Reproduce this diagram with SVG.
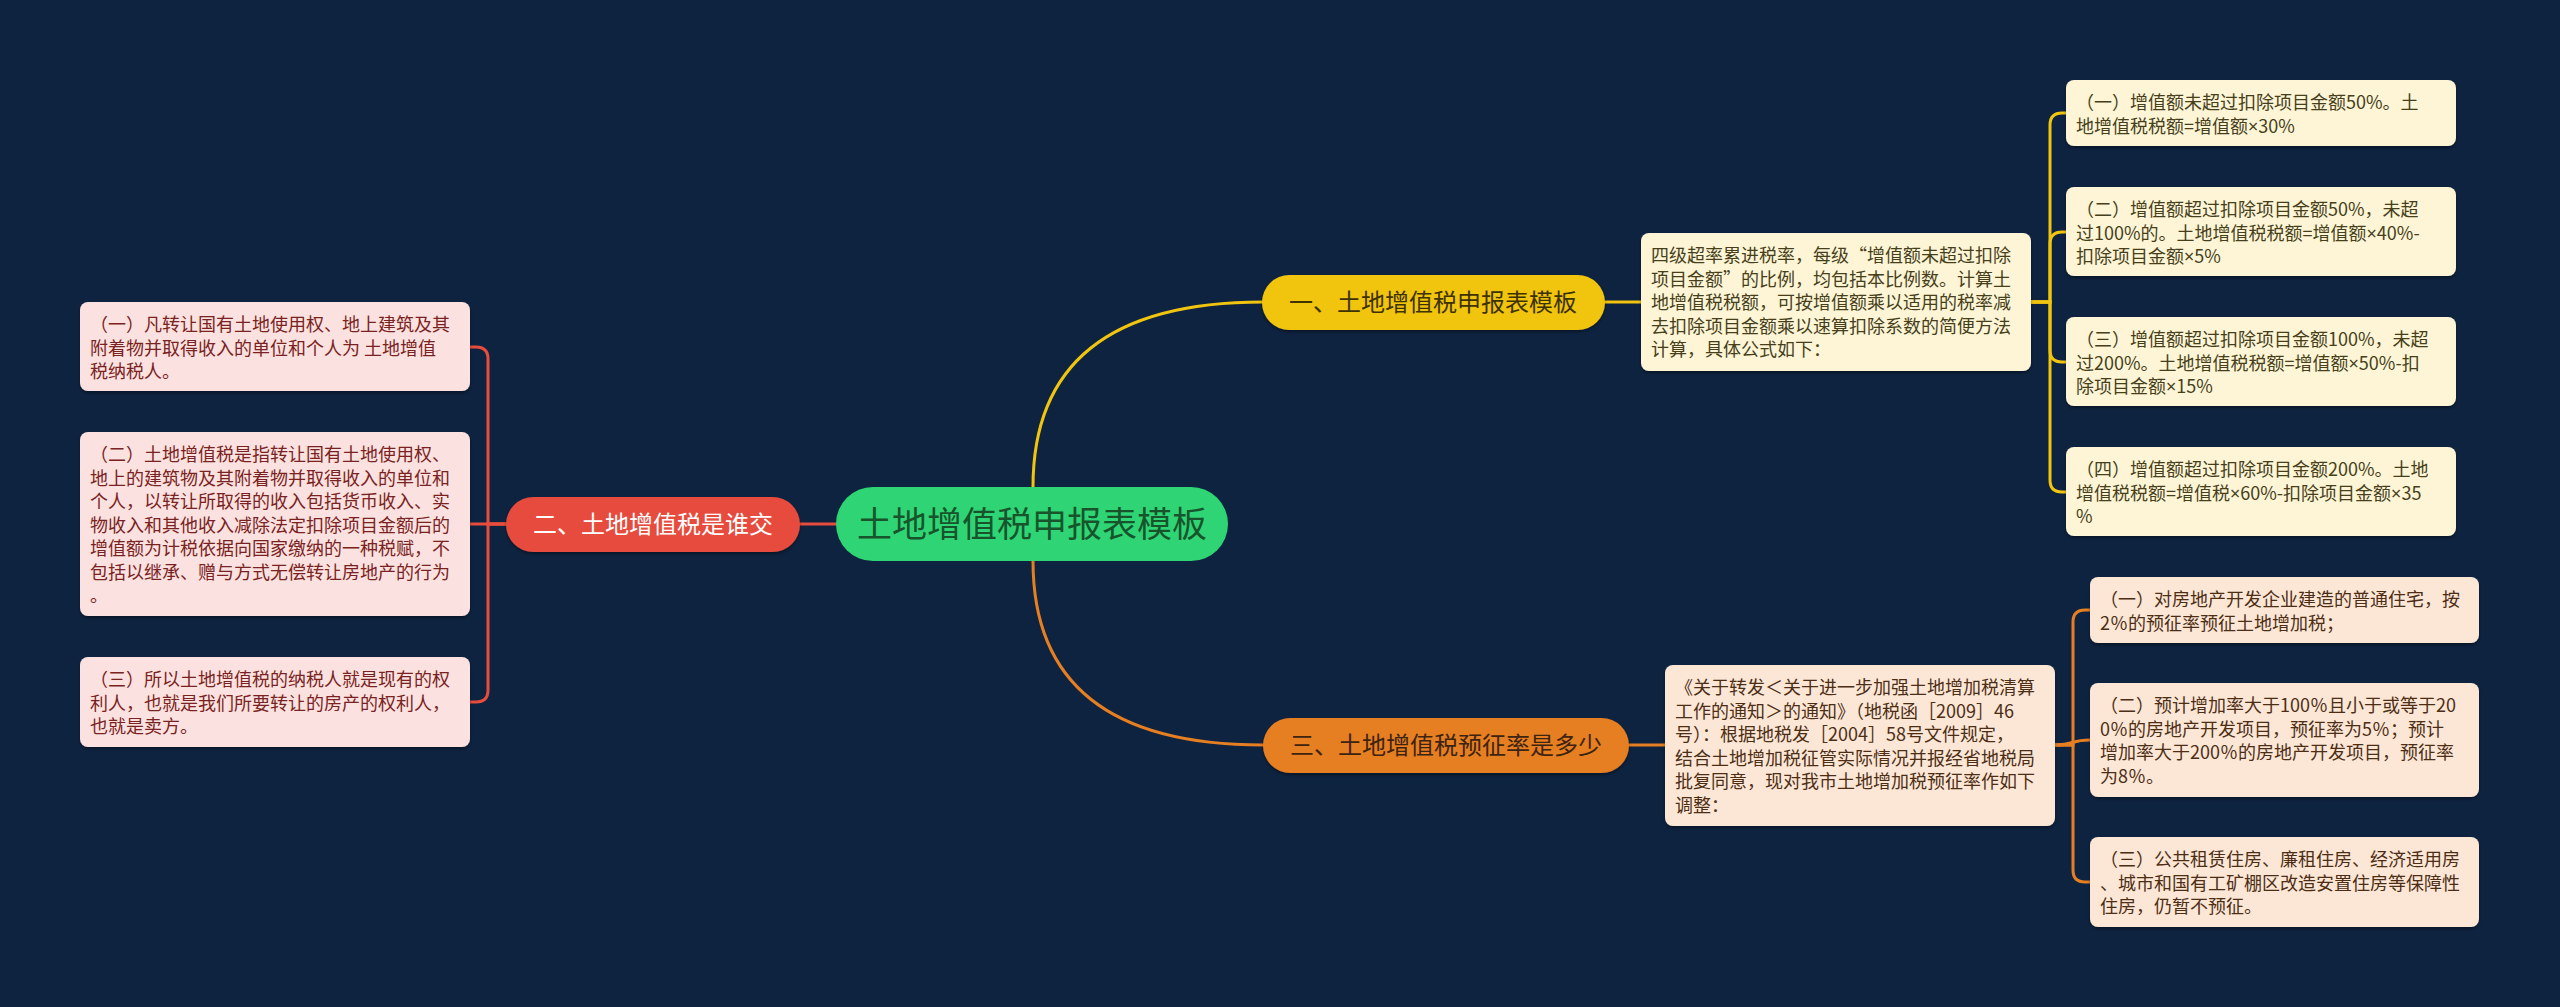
<svg xmlns="http://www.w3.org/2000/svg" width="2560" height="1007" viewBox="0 0 2560 1007">
<defs>
<filter id="sh" x="-10%" y="-20%" width="120%" height="150%"><feDropShadow dx="0" dy="2" stdDeviation="1.5" flood-color="#000" flood-opacity="0.4"/></filter>
<style>
text{font-family:"Noto Sans CJK SC","Noto Sans",sans-serif;}
.main{font-size:35px;fill:#17542b;text-anchor:middle;}
.br{font-size:24px;text-anchor:middle;}
.t{font-size:18px;}
.x{font-family:"Noto Sans","DejaVu Sans",sans-serif;}
.pk{fill:#fbe2e0;}
.pkt{fill:#7a2222;}
.yl{fill:#fdf5d6;}
.ylt{fill:#463f1a;}
.og{fill:#fce7d7;}
.ogt{fill:#4d2e14;}
.cn{fill:none;stroke-width:3;stroke-linecap:round;}
</style>
</defs>
<rect width="2560" height="1007" fill="#0e2340"/>
<g id="connectors">
<g stroke="#e74c3c" class="cn">
<path d="M836,524 H800"/>
<path d="M506,524 H488 V359 Q488,347 476,347 H470"/>
<path d="M506,524 H470"/>
<path d="M506,524 H488 V690 Q488,702 476,702 H470"/>
</g>
<g stroke="#f1c40f" class="cn">
<path d="M1033,487 Q1033,302 1263,302"/>
<path d="M1605,302 H1641"/>
<path d="M2031,302 H2050 V125 Q2050,113 2062,113 H2066"/>
<path d="M2031,302 H2050 V244 Q2050,232 2062,232 H2066"/>
<path d="M2031,302 H2050 V350 Q2050,362 2062,362 H2066"/>
<path d="M2031,302 H2050 V480 Q2050,492 2062,492 H2066"/>
</g>
<g stroke="#e67e22" class="cn">
<path d="M1033,561 Q1033,745 1263,745"/>
<path d="M1629,745 H1665"/>
<path d="M2055,745 H2073 V622 Q2073,610 2085,610 H2090"/>
<path d="M2055,745 C2075,745 2070,740 2090,740"/>
<path d="M2055,745 H2073 V870 Q2073,882 2085,882 H2090"/>
</g>
</g>
<g id="root">
<rect x="836" y="487" width="392" height="74" rx="37" fill="#2fd574"/>
<text class="main" x="1032" y="537">土地增值税申报表模板</text>
</g>
<g id="b2">
<rect x="506" y="497" width="294" height="55" rx="27.5" fill="#e74c3c" filter="url(#sh)"/>
<text class="br" x="653" y="533" fill="#ffffff">二、土地增值税是谁交</text>
</g>
<g id="b1">
<rect x="1262" y="275" width="343" height="55" rx="27.5" fill="#f1c40f" filter="url(#sh)"/>
<text class="br" x="1433" y="311" fill="#3d3200">一、土地增值税申报表模板</text>
</g>
<g id="b3">
<rect x="1263" y="718" width="366" height="55" rx="27.5" fill="#e67e22" filter="url(#sh)"/>
<text class="br" x="1446" y="754" fill="#3d2410">三、土地增值税预征率是多少</text>
</g>
<g id="l1">
<rect class="pk" x="80" y="302" width="390" height="89" rx="8" filter="url(#sh)"/>
<text class="t pkt" x="90" y="331"><tspan x="90">（一）凡转让国有土地使用权、地上建筑及其</tspan><tspan x="90" dy="23.5">附着物并取得收入的单位和个人为 土地增值</tspan><tspan x="90" dy="23.5">税纳税人。</tspan></text>
</g>
<g id="l2">
<rect class="pk" x="80" y="432" width="390" height="184" rx="8" filter="url(#sh)"/>
<text class="t pkt" x="90" y="461"><tspan x="90">（二）土地增值税是指转让国有土地使用权、</tspan><tspan x="90" dy="23.5">地上的建筑物及其附着物并取得收入的单位和</tspan><tspan x="90" dy="23.5">个人，以转让所取得的收入包括货币收入、实</tspan><tspan x="90" dy="23.5">物收入和其他收入减除法定扣除项目金额后的</tspan><tspan x="90" dy="23.5">增值额为计税依据向国家缴纳的一种税赋，不</tspan><tspan x="90" dy="23.5">包括以继承、赠与方式无偿转让房地产的行为</tspan><tspan x="90" dy="23.5">。</tspan></text>
</g>
<g id="l3">
<rect class="pk" x="80" y="657" width="390" height="90" rx="8" filter="url(#sh)"/>
<text class="t pkt" x="90" y="686"><tspan x="90">（三）所以土地增值税的纳税人就是现有的权</tspan><tspan x="90" dy="23.5">利人，也就是我们所要转让的房产的权利人，</tspan><tspan x="90" dy="23.5">也就是卖方。</tspan></text>
</g>
<g id="y0">
<rect class="yl" x="1641" y="233" width="390" height="138" rx="8" filter="url(#sh)"/>
<text class="t ylt" x="1651" y="262"><tspan x="1651">四级超率累进税率，每级“增值额未超过扣除</tspan><tspan x="1651" dy="23.5">项目金额”的比例，均包括本比例数。计算土</tspan><tspan x="1651" dy="23.5">地增值税税额，可按增值额乘以适用的税率减</tspan><tspan x="1651" dy="23.5">去扣除项目金额乘以速算扣除系数的简便方法</tspan><tspan x="1651" dy="23.5">计算，具体公式如下：</tspan></text>
</g>
<g id="y1">
<rect class="yl" x="2066" y="80" width="390" height="66" rx="8" filter="url(#sh)"/>
<text class="t ylt" x="2076" y="109"><tspan x="2076">（一）增值额未超过扣除项目金额50%。土</tspan><tspan x="2076" dy="23.5">地增值税税额=增值额<tspan class="x">×</tspan>30%</tspan></text>
</g>
<g id="y2">
<rect class="yl" x="2066" y="187" width="390" height="89" rx="8" filter="url(#sh)"/>
<text class="t ylt" x="2076" y="216"><tspan x="2076">（二）增值额超过扣除项目金额50%，未超</tspan><tspan x="2076" dy="23.5">过100%的。土地增值税税额=增值额<tspan class="x">×</tspan>40%-</tspan><tspan x="2076" dy="23.5">扣除项目金额<tspan class="x">×</tspan>5%</tspan></text>
</g>
<g id="y3">
<rect class="yl" x="2066" y="317" width="390" height="89" rx="8" filter="url(#sh)"/>
<text class="t ylt" x="2076" y="346"><tspan x="2076">（三）增值额超过扣除项目金额100%，未超</tspan><tspan x="2076" dy="23.5">过200%。土地增值税税额=增值额<tspan class="x">×</tspan>50%-扣</tspan><tspan x="2076" dy="23.5">除项目金额<tspan class="x">×</tspan>15%</tspan></text>
</g>
<g id="y4">
<rect class="yl" x="2066" y="447" width="390" height="89" rx="8" filter="url(#sh)"/>
<text class="t ylt" x="2076" y="476"><tspan x="2076">（四）增值额超过扣除项目金额200%。土地</tspan><tspan x="2076" dy="23.5">增值税税额=增值税<tspan class="x">×</tspan>60%-扣除项目金额<tspan class="x">×</tspan>35</tspan><tspan x="2076" dy="23.5">%</tspan></text>
</g>
<g id="o0">
<rect class="og" x="1665" y="665" width="390" height="161" rx="8" filter="url(#sh)"/>
<text class="t ogt" x="1675" y="694"><tspan x="1675">《关于转发＜关于进一步加强土地增加税清算</tspan><tspan x="1675" dy="23.5">工作的通知＞的通知》（地税函［2009］46</tspan><tspan x="1675" dy="23.5">号）：根据地税发［2004］58号文件规定，</tspan><tspan x="1675" dy="23.5">结合土地增加税征管实际情况并报经省地税局</tspan><tspan x="1675" dy="23.5">批复同意，现对我市土地增加税预征率作如下</tspan><tspan x="1675" dy="23.5">调整：</tspan></text>
</g>
<g id="o1">
<rect class="og" x="2090" y="577" width="389" height="66" rx="8" filter="url(#sh)"/>
<text class="t ogt" x="2100" y="606"><tspan x="2100">（一）对房地产开发企业建造的普通住宅，按</tspan><tspan x="2100" dy="23.5">2％的预征率预征土地增加税；</tspan></text>
</g>
<g id="o2">
<rect class="og" x="2090" y="683" width="389" height="114" rx="8" filter="url(#sh)"/>
<text class="t ogt" x="2100" y="712"><tspan x="2100">（二）预计增加率大于100％且小于或等于20</tspan><tspan x="2100" dy="23.5">0％的房地产开发项目，预征率为5％；预计</tspan><tspan x="2100" dy="23.5">增加率大于200％的房地产开发项目，预征率</tspan><tspan x="2100" dy="23.5">为8％。</tspan></text>
</g>
<g id="o3">
<rect class="og" x="2090" y="837" width="389" height="90" rx="8" filter="url(#sh)"/>
<text class="t ogt" x="2100" y="866"><tspan x="2100">（三）公共租赁住房、廉租住房、经济适用房</tspan><tspan x="2100" dy="23.5">、城市和国有工矿棚区改造安置住房等保障性</tspan><tspan x="2100" dy="23.5">住房，仍暂不预征。</tspan></text>
</g>
</svg>
